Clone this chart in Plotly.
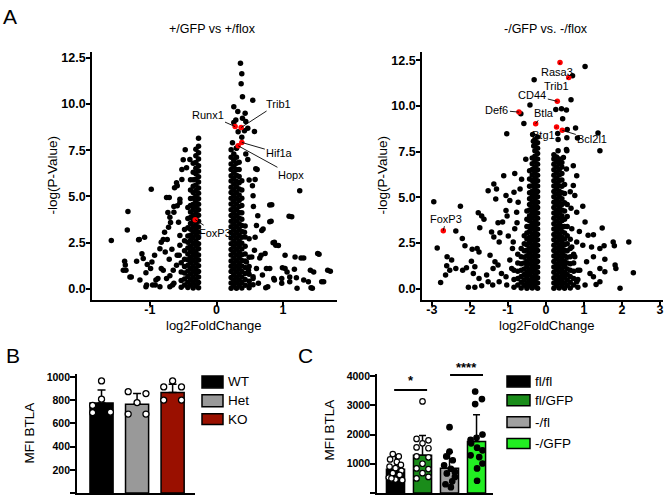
import plotly.graph_objects as go

# ---------------- data ----------------
# A (left): +/GFP vs +/flox, scattered genes (log2FC, -log p)
a1_sparse_x = [-1.58, -1.33, -1.34, -0.98, -1.38, -1.37, -1.40, -1.30, -1.20, -1.17, -1.08, -1.12,
               -1.06, -1.06, -0.97, -0.93, -0.91, -0.85, -0.80, -0.78, -0.73, -0.75, -0.69, -0.83,
               -0.75, -0.65, -0.66, -0.63, -0.60, -0.55, -0.64, -0.52, -0.50, -0.47, -0.96, -0.85,
               -0.70, -0.56, -0.55, -0.57, -1.16, -1.36, -1.28, -1.10, -1.04, -0.99, -1.15, -1.05,
               -0.92, -0.88, -0.83, -0.74, -0.67, -0.77, -0.71, -0.80, -0.70, -0.64, -0.60, -0.59,
               -0.55, -0.72, -0.70, -0.64, -0.59, -0.55, -0.59, -0.52, -0.45, -0.40, -0.71,
               0.42, 0.49, 0.57, 0.67, 0.75, 0.77, 0.87, 0.98, 1.03, 1.10, 1.21, 1.44, 1.38, 1.46,
               1.61, 1.71, 1.54, 1.31, 1.18, 1.03, 0.93, 0.87, 0.70, 0.60, 0.62, 0.555, 0.55, 0.61,
               0.58, 0.82, 0.83, 1.13, 1.25, 0.59, 0.49, 0.54, 0.80, 1.09, 0.80, 0.68, 0.58, 0.85,
               0.89, 0.73, 0.65, 0.53, 0.45, 0.60, 0.69, 0.80, 0.86, 0.99, 1.06, 1.17, 1.27, 1.41,
               1.52, 1.67, 1.58, 1.42, 1.31, 1.20, 1.10, 0.98, 0.74, 0.63, 0.50, 0.55, 0.48,
               0.57, 0.47, 0.39, 0.43, 0.32, 0.26, 0.545, 0.39, 0.37, 0.38, 0.36, 0.29, 0.44, 0.26,
               0.325, 0.42, 0.38, 0.24, 0.30, 0.44, 0.47]
a1_sparse_y = [2.61, 4.18, 3.18, 5.38, 1.49, 1.28, 1.00, 0.63, 1.49, 2.65, 2.79, 1.89,
               0.87, 0.11, 1.45, 1.81, 0.47, 2.16, 2.66, 3.06, 4.13, 4.94, 3.59, 1.09,
               0.55, 1.00, 0.20, 5.47, 5.74, 4.67, 4.45, 6.45, 6.99, 7.53, 0.20, 0.11,
               0.11, 1.81, 2.88, 3.60, 2.67, 1.00, 0.64, 1.63, 1.31, 1.09, 0.47, 0.20,
               0.20, 0.55, 2.52, 2.67, 2.13, 1.99, 1.59, 1.00, 0.70, 0.29, 1.27, 1.81,
               2.35, 3.33, 3.87, 4.14, 4.49, 4.85, 5.57, 5.92, 6.55, 7.00, 4.94,
               3.06, 2.70, 2.08, 1.81, 1.09, 0.11, 0.47, 0.55, 1.09, 0.64, 0.02, 0.02, 0.38, 0.91,
               0.38, 0.95, 1.86, 1.66, 1.72, 1.81, 2.34, 2.52, 3.24, 3.42, 3.95, 4.45, 5.03, 6.45,
               5.92, 3.65, 4.54, 3.90, 5.30, 6.50, 5.89, 5.57, 4.53, 3.92, 3.63, 3.15, 2.79, 2.49,
               2.36, 1.90, 1.66, 1.72, 1.45, 1.09, 0.74, 1.09, 0.55, 1.13, 0.91, 1.06, 1.66, 1.00,
               1.90, 1.00, 0.38, 0.05, 0.47, 0.59, 0.38, 0.29, 0.05, 0.29, 0.20, 0.55, 1.00,
               8.51, 8.69, 9.23, 9.50, 9.59, 9.86, 10.21, 10.39, 11.10, 11.64, 12.21, 9.14, 9.05, 9.00,
               8.50, 8.55, 8.20, 7.90, 7.60, 7.30, 7.00]
# dense columns: (log2FC, list of -log p)
a1_columns = [
    (-0.27, [0.05, 0.33, 0.64, 0.93, 1.24, 1.55, 1.83, 2.16, 2.44, 2.77, 3.06, 3.34, 3.65, 3.98,
             4.27, 4.58, 4.87, 5.17, 5.46, 5.78, 6.06, 6.38, 6.66, 7.02, 7.36, 7.72, 8.15]),
    (-0.31, [0.19, 0.48, 0.79, 1.08, 1.39, 1.70, 1.98, 2.31, 2.59, 2.92, 3.21, 3.49, 3.82, 4.13,
             4.42, 4.73, 5.02, 5.32, 5.61, 5.93, 6.22, 6.53, 6.84, 7.20, 7.55]),
    (-0.35, [0.04, 0.34, 0.63, 0.95, 1.23, 1.54, 1.85, 2.14, 2.46, 2.76, 3.07, 3.36, 3.67, 3.97,
             4.29, 4.58, 4.90, 5.21, 5.55, 5.90, 6.30, 6.80]),
    (-0.39, [0.20, 0.49, 0.80, 1.10, 1.40, 1.69, 2.00, 2.30, 2.61, 2.90, 3.22, 3.53, 3.85, 4.16,
             4.50, 4.88, 5.35, 5.90]),
    (-0.43, [0.06, 0.35, 0.66, 0.96, 1.27, 1.57, 1.88, 2.20, 2.52, 2.86, 3.30, 3.80, 4.40]),
    (-0.48, [0.20, 0.52, 0.85, 1.20, 1.60, 2.05, 2.60, 3.20]),
    (-0.53, [0.08, 0.45, 0.90, 1.40]),
    (0.22, [0.02, 0.31, 0.60, 0.93, 1.21, 1.50, 1.83, 2.12, 2.43, 2.74, 3.05, 3.36, 3.65, 3.96,
            4.27, 4.59, 4.90, 5.21, 5.50, 5.83, 6.12, 6.46, 6.76, 7.12, 7.52]),
    (0.26, [0.17, 0.46, 0.76, 1.07, 1.36, 1.66, 1.97, 2.28, 2.58, 2.89, 3.20, 3.50, 3.81, 4.12,
            4.43, 4.74, 5.05, 5.35, 5.67, 5.97, 6.29, 6.61, 6.94, 7.30]),
    (0.30, [0.03, 0.32, 0.62, 0.92, 1.22, 1.52, 1.82, 2.13, 2.44, 2.75, 3.05, 3.36, 3.66, 3.97,
            4.28, 4.59, 4.90, 5.20, 5.52, 5.82, 6.14, 6.46, 6.79, 7.12, 7.62]),
    (0.34, [0.18, 0.47, 0.77, 1.08, 1.37, 1.67, 1.98, 2.29, 2.59, 2.90, 3.21, 3.52, 3.83, 4.13,
            4.45, 4.77, 5.08, 5.40, 5.74, 6.08, 6.45, 6.85]),
    (0.38, [0.04, 0.33, 0.63, 0.93, 1.23, 1.53, 1.84, 2.15, 2.46, 2.78, 3.10, 3.42, 3.76, 4.12,
            4.50, 4.90, 5.35, 5.85]),
    (0.43, [0.19, 0.50, 0.82, 1.15, 1.50, 1.88, 2.30, 2.80, 3.40]),
    (0.49, [0.05, 0.40, 0.78, 1.20, 1.70]),
    (0.55, [0.22, 0.65]),
]
a1_genes = ["Runx1", "Trib1", "Hif1a", "Hopx", "FoxP3"]
a1_genes_x = [0.28, 0.37, 0.38, 0.325, -0.32]
a1_genes_y = [8.78, 8.73, 7.92, 7.74, 3.74]

# A (right): -/GFP vs. -/flox
a2_sparse_x = [1.03, -0.31, 0.70, 0.66, -0.42, -0.66, -0.58, -1.03, 0.26, 0.41, 0.54, 0.44, 0.78,
               0.56, 1.37, 1.42, 0.83, 0.55, 0.31, 0.32, 0.32, 0.55, -0.35, -0.33, -0.32,
               -2.95, -2.25, -2.86, -2.37, -2.20, -2.13, -2.60, -2.48, -2.61, -2.64, -2.77, -2.53,
               -2.37, -2.19, -2.09, -2.04, -1.94, -1.81, -1.76, -1.78, -1.69, -1.63, -1.74, -1.96,
               -1.87, -1.91, -1.76, -1.87, -1.69, -1.56, -1.52, -1.37, -1.30, -1.32, -1.11, -1.05,
               -0.82, -1.26, -1.14, -1.02, -1.05, -1.21, -1.43, -1.37, -1.23, -0.99, -0.86, -1.47,
               -1.34, -1.39, -1.26, -1.52, -1.40, -1.23, -1.17, -1.05, -1.03, -0.95, -0.90, -0.82,
               -0.77, -0.73, -0.68, -0.64, -0.53, -0.76, -0.88, -0.84, -0.95,
               0.72, 0.81, 0.97, 0.72, 0.76, 0.81, 1.03, 1.48, 1.25, 1.11, 0.88, 0.81, 0.97, 1.20,
               1.42, 1.53, 1.77, 1.80, 2.18, 2.30, 1.95, 1.82, 1.84, 1.55, 1.25, 1.42, 1.55, 1.42,
               1.25, 1.32, 1.16, 1.07, 1.03, 0.81, 0.89, 0.76, 0.68, 0.68, 0.66, 0.64, 0.54, 0.46,
               0.54]
a2_sparse_y = [12.16, 11.43, 11.65, 10.34, 10.05, 9.57, 9.04, 8.48, 9.80, 9.84, 9.77, 9.29, 8.79,
               8.71, 8.52, 7.55, 8.24, 8.26, 8.49, 8.16, 7.54, 7.54, 8.44, 8.06, 7.80,
               4.76, 4.51, 2.23, 3.15, 2.74, 2.34, 1.74, 1.56, 1.25, 0.74, 0.34, 1.01,
               1.10, 1.01, 1.14, 0.07, 2.16, 2.19, 2.01, 4.15, 3.97, 3.79, 3.33, 1.50,
               1.20, 0.83, 0.56, 0.07, 0.16, 0.74, 5.36, 5.72, 5.45, 4.91, 6.18, 5.09,
               6.30, 3.60, 3.64, 3.97, 4.28, 3.06, 3.10, 2.83, 2.55, 2.88, 2.55, 1.83,
               1.47, 1.10, 1.29, 0.38, 0.20, 0.38, 0.83, 0.65, 0.20, 1.56, 1.10, 3.28,
               4.18, 4.73, 5.45, 5.99, 7.08, 3.60, 2.19, 5.27, 4.82,
               6.72, 6.18, 4.51, 5.64, 5.09, 4.18, 3.64, 3.32, 2.95, 2.92, 3.13, 2.55, 2.37, 2.28,
               2.19, 2.34, 2.55, 2.34, 2.55, 0.87, 0.02, 1.29, 1.10, 1.61, 1.74, 1.10, 0.92, 0.38,
               0.65, 0.23, 0.83, 1.47, 0.20, 0.38, 1.01, 1.74, 2.28, 3.28, 4.40, 5.30, 6.54, 7.17,
               7.62]
a2_columns = [
    (-0.22, [0.02, 0.31, 0.60, 0.90, 1.19, 1.49, 1.78, 2.08, 2.37, 2.67, 2.96, 3.26, 3.55, 3.85,
             4.14, 4.44, 4.73, 5.03, 5.32, 5.62, 5.91, 6.21, 6.50, 6.80, 7.09, 7.39, 7.68, 7.98, 8.30]),
    (-0.29, [0.17, 0.46, 0.75, 1.05, 1.34, 1.64, 1.93, 2.23, 2.52, 2.82, 3.11, 3.41, 3.70, 4.00,
             4.29, 4.59, 4.88, 5.18, 5.47, 5.77, 6.06, 6.36, 6.65, 6.95, 7.24, 7.54, 7.84, 8.15]),
    (-0.36, [0.03, 0.32, 0.61, 0.91, 1.20, 1.50, 1.79, 2.09, 2.38, 2.68, 2.97, 3.27, 3.56, 3.86,
             4.15, 4.45, 4.74, 5.04, 5.33, 5.63, 5.92, 6.22, 6.52, 6.83, 7.15]),
    (-0.43, [0.16, 0.45, 0.76, 1.04, 1.35, 1.63, 1.94, 2.22, 2.53, 2.81, 3.12, 3.40, 3.71, 3.99,
             4.30, 4.60, 4.92, 5.25, 5.60, 6.00, 6.45]),
    (-0.50, [0.02, 0.31, 0.62, 0.90, 1.21, 1.50, 1.80, 2.10, 2.40, 2.72, 3.05, 3.40, 3.80, 4.25]),
    (-0.57, [0.18, 0.47, 0.78, 1.08, 1.40, 1.72, 2.07, 2.45, 2.90]),
    (-0.65, [0.04, 0.35, 0.67, 1.00, 1.36, 1.75, 2.20]),
    (-0.74, [0.20, 0.55, 0.95, 1.40, 1.88]),
    (-0.84, [0.08, 0.50, 1.00]),
    (0.21, [0.02, 0.31, 0.60, 0.90, 1.19, 1.49, 1.78, 2.08, 2.37, 2.67, 2.96, 3.26, 3.55, 3.85,
            4.14, 4.44, 4.73, 5.03, 5.32, 5.62, 5.91, 6.21, 6.50, 6.80, 7.09, 7.32]),
    (0.28, [0.17, 0.46, 0.75, 1.05, 1.34, 1.64, 1.93, 2.23, 2.52, 2.82, 3.11, 3.41, 3.70, 4.00,
            4.29, 4.59, 4.88, 5.18, 5.47, 5.77, 6.06, 6.36, 6.65, 6.95, 7.20]),
    (0.35, [0.03, 0.32, 0.61, 0.91, 1.20, 1.50, 1.79, 2.09, 2.38, 2.68, 2.97, 3.27, 3.56, 3.86,
            4.15, 4.45, 4.74, 5.04, 5.33, 5.63, 5.92, 6.22, 6.52, 6.83, 7.10]),
    (0.42, [0.16, 0.45, 0.76, 1.04, 1.35, 1.63, 1.94, 2.22, 2.53, 2.81, 3.12, 3.40, 3.71, 3.99,
            4.30, 4.60, 4.92, 5.25, 5.60, 5.95, 6.30, 6.65, 6.90]),
    (0.49, [0.02, 0.31, 0.62, 0.90, 1.21, 1.50, 1.80, 2.10, 2.40, 2.72, 3.05, 3.40, 3.80, 4.25,
            4.70, 5.20, 5.70]),
    (0.56, [0.18, 0.47, 0.78, 1.08, 1.40, 1.72, 2.07, 2.45, 2.90, 3.40, 3.95, 4.60]),
    (0.64, [0.04, 0.35, 0.67, 1.00, 1.36, 1.75, 2.20, 2.70]),
    (0.73, [0.20, 0.55, 0.95, 1.40, 1.88]),
    (0.84, [0.08, 0.50, 1.00]),
]
a2_genes = ["Rasa3", "Trib1", "CD44", "Def6", "Btla", "Btg1", "Bcl2l1", "FoxP3"]
a2_genes_x = [0.37, 0.60, 0.30, -0.71, -0.27, 0.28, 0.43, -2.70]
a2_genes_y = [12.37, 11.56, 10.25, 9.66, 9.02, 8.84, 8.66, 3.17]

# B: MFI BTLA
b_groups = ["WT", "Het", "KO"]
b_means = [775, 765, 866]
b_sd = [114, 92, 71]
b_points = [[966, 809, 755, 693, 697],
            [874, 857, 780, 681, 681],
            [966, 915, 915, 801, 801]]
b_colors = ["#000000", "#999999", "#9a1000"]

# C: MFI BTLA
c_groups = ["fl/fl", "fl/GFP", "-/fl", "-/GFP"]
c_means = [813, 1288, 847, 1763]
c_sd = [480, 678, 543, 915]
c_points = [[1330, 1250, 1150, 1060, 960, 900, 850, 760, 680, 620, 530, 460, 440, 500],
            [3130, 1850, 1800, 1560, 1530, 1250, 1220, 1000, 840, 820, 680, 500, 550, 1700],
            [2250, 1420, 1250, 1120, 950, 830, 670, 550, 300, 200, 720, 400],
            [3470, 3210, 3040, 2000, 1890, 1820, 1550, 1460, 1290, 1230, 1010, 840, 420, 1700]]
c_colors = ["#000000", "#1a8c1a", "#a0a0a0", "#22ee22"]

# horizontal spread of dots inside each bar (layout only)
B_JITTER = [[0, 0, -0.25, -0.25, 0.25],
            [-0.25, 0.25, 0, -0.25, 0.25],
            [0, -0.25, 0.25, -0.25, 0.25]]
C_JITTER = [[-0.1, 0.12, -0.2, 0.05, 0.2, -0.22, 0.0, 0.22, -0.1, 0.15, -0.25, 0.0, 0.25, -0.15],
            [0, -0.22, 0.22, -0.22, 0.22, -0.22, 0.22, 0, -0.22, 0.22, 0, -0.22, 0.22, 0],
            [0, 0, -0.12, 0.12, -0.2, 0.05, -0.1, 0.2, -0.15, 0.05, 0.2, 0.1],
            [-0.05, 0.2, -0.05, 0.22, 0, -0.22, 0.02, 0.22, -0.22, 0.1, 0.22, 0.02, 0.02, -0.2]]

W, H = 670, 497
FONT = "Liberation Sans, Arial, sans-serif"


def fx(p):
    return p / W


def fy(p):
    return 1 - p / H


def expand(columns):
    xs, ys = [], []
    for cx, cys in columns:
        xs += [cx] * len(cys)
        ys += cys
    return xs, ys


fig = go.Figure()

# volcano plots
for (sx, sy, cols, gx, gy, xa, ya) in [
        (a1_sparse_x, a1_sparse_y, a1_columns, a1_genes_x, a1_genes_y, "x", "y"),
        (a2_sparse_x, a2_sparse_y, a2_columns, a2_genes_x, a2_genes_y, "x2", "y2")]:
    cx, cy = expand(cols)
    fig.add_trace(go.Scatter(x=sx + cx, y=sy + cy, mode="markers", xaxis=xa, yaxis=ya,
                             marker=dict(color="black", size=5.5, line=dict(width=0))))
    fig.add_trace(go.Scatter(x=gx, y=gy, mode="markers", xaxis=xa, yaxis=ya,
                             marker=dict(color="#ff0000", size=5.5, line=dict(width=0))))

# B bars
fig.add_trace(go.Bar(x=list(range(3)), y=b_means, width=0.65, xaxis="x3", yaxis="y3",
                     marker=dict(color=b_colors, line=dict(color="black", width=1.5)),
                     error_y=dict(type="data", symmetric=False, array=b_sd, arrayminus=[0] * 3,
                                  color="black", thickness=1.5, width=4)))
for i, pts in enumerate(b_points):
    fig.add_trace(go.Scatter(x=[i + j for j in B_JITTER[i]], y=pts, mode="markers",
                             xaxis="x3", yaxis="y3",
                             marker=dict(color="white", size=6, line=dict(color="black", width=1.3))))

# C bars
fig.add_trace(go.Bar(x=list(range(4)), y=c_means, width=0.67, xaxis="x4", yaxis="y4",
                     marker=dict(color=c_colors, line=dict(color="black", width=1.5)),
                     error_y=dict(type="data", symmetric=False, array=c_sd, arrayminus=[0] * 4,
                                  color="black", thickness=1.5, width=3.5)))
for i, pts in enumerate(c_points):
    fill = "white" if i < 2 else "black"
    fig.add_trace(go.Scatter(x=[i + j for j in C_JITTER[i]], y=pts, mode="markers",
                             xaxis="x4", yaxis="y4",
                             marker=dict(color=fill, size=5.5, line=dict(color="black", width=1.2))))

axis_style = dict(showline=True, linecolor="black", linewidth=1.8, ticks="outside",
                  ticklen=4, tickwidth=1.5, tickcolor="black", showgrid=False, zeroline=False,
                  tickfont=dict(family=FONT, size=12.5, color="black", weight="bold"))
bar_tickfont = dict(family=FONT, size=10.5, color="black", weight="bold")
pval_ticks = [0, 2.5, 5, 7.5, 10, 12.5]
pval_text = ["0.0", "2.5", "5.0", "7.5", "10.0", "12.5"]

fig.update_layout(
    width=W, height=H, margin=dict(l=0, r=0, t=0, b=0),
    paper_bgcolor="white", plot_bgcolor="white", showlegend=False,
    font=dict(family=FONT, color="black"),
    xaxis=dict(axis_style, domain=[fx(92), fx(337)], anchor="y", range=[-1.87, 1.81],
               tickvals=[-1, 0, 1], ticktext=["-1", "0", "1"], ticklabelstandoff=-7),
    yaxis=dict(axis_style, domain=[fy(298), fy(48)], anchor="x", range=[-0.59, 12.84],
               tickvals=pval_ticks, ticktext=pval_text, ticklabelstandoff=-2),
    xaxis2=dict(axis_style, domain=[fx(422), fx(663)], anchor="y2", range=[-3.26, 3.08],
                tickvals=[-3, -2, -1, 0, 1, 2, 3], ticktext=["-3", "-2", "-1", "0", "1", "2", "3"],
                ticklabelstandoff=-7),
    yaxis2=dict(axis_style, domain=[fy(298), fy(48)], anchor="x2", range=[-0.60, 12.97],
                tickvals=pval_ticks, ticktext=pval_text, ticklabelstandoff=-2),
    xaxis3=dict(axis_style, domain=[fx(77), fx(195)], anchor="y3", range=[-0.69, 2.63],
                ticks="", showticklabels=False),
    yaxis3=dict(axis_style, domain=[fy(493), fy(373)], anchor="x3", range=[0, 1026], ticklen=5,
                tickvals=[0, 200, 400, 600, 800, 1000], tickfont=bar_tickfont, ticklabelstandoff=-2),
    xaxis4=dict(axis_style, domain=[fx(377), fx(493)], anchor="y4", range=[-0.685, 3.61],
                ticks="", showticklabels=False),
    yaxis4=dict(axis_style, domain=[fy(493), fy(373)], anchor="x4", range=[0, 4068], ticklen=5,
                tickvals=[0, 1000, 2000, 3000, 4000], tickfont=bar_tickfont, ticklabelstandoff=-2),
)

# gene labels with leader lines (offsets in pixels)
a1_offsets = [(-27, -12), (37, -24), (38, 11), (53, 29), (20, 13)]
a2_offsets = [(-3, 9), (-12, 9), (-25, -6), (-22, -2), (8, -11), (-13, 8), (30, 9), (3, -12)]
for genes, gx, gy, offs, xr, yr in [(a1_genes, a1_genes_x, a1_genes_y, a1_offsets, "x", "y"),
                                    (a2_genes, a2_genes_x, a2_genes_y, a2_offsets, "x2", "y2")]:
    for g, x, y, (ax, ay) in zip(genes, gx, gy, offs):
        fig.add_annotation(x=x, y=y, xref=xr, yref=yr, text=g, showarrow=True, arrowhead=0,
                           arrowwidth=0.9, arrowcolor="black", ax=ax, ay=ay, standoff=0,
                           font=dict(family=FONT, size=11, color="black"))


def label(text, x, y, size=13, angle=0, bold=False, xanchor="center"):
    fig.add_annotation(x=fx(x), y=fy(y), xref="paper", yref="paper", text=text, showarrow=False,
                       textangle=angle, xanchor=xanchor, yanchor="middle",
                       font=dict(family=FONT, size=size, color="black",
                                 weight="bold" if bold else "normal"))


label("A", 10, 13, size=21)
label("B", 13, 354, size=21)
label("C", 305, 354, size=21)
label("+/GFP vs +/flox", 212, 25, size=12.5)
label("-/GFP vs. -/flox", 546, 25, size=12.5)
label("-log(P-Value)", 53, 173, size=13.5, angle=-90)
label("-log(P-Value)", 383, 173, size=13.5, angle=-90)
label("log2FoldChange", 213, 324, size=13)
label("log2FoldChange", 546, 324, size=13)
label("MFI BTLA", 30, 433, size=13.5, angle=-90)
label("MFI BTLA", 330, 430, size=13.5, angle=-90)

# significance bars in C
fig.add_shape(type="line", xref="x4", yref="y4", x0=-0.05, x1=1.17, y0=3525, y1=3525,
              line=dict(color="black", width=2))
fig.add_shape(type="line", xref="x4", yref="y4", x0=2.02, x1=3.24, y0=4034, y1=4034,
              line=dict(color="black", width=2))
label("*", 411, 380, size=13, bold=True)
label("****", 466, 366, size=13, bold=True)

# legends drawn as boxes + text
for names, cols, bx0, bx1, rows in [
        (b_groups, b_colors, 202, 223, [(375, 387), (394, 406), (413, 424)]),
        (c_groups, c_colors, 507, 530, [(375, 386), (394, 405), (416, 427), (438, 448)])]:
    for name, col, (ry0, ry1) in zip(names, cols, rows):
        fig.add_shape(type="rect", xref="paper", yref="paper", x0=fx(bx0), x1=fx(bx1),
                      y0=fy(ry1), y1=fy(ry0), fillcolor=col, line=dict(color="black", width=1.5))
        label(name, bx1 + 3, (ry0 + ry1) / 2, size=13.5, xanchor="left")

fig.write_html("out.html", config={"displayModeBar": False},
               post_script="document.body.style.margin='0';document.body.style.overflow='hidden';")
